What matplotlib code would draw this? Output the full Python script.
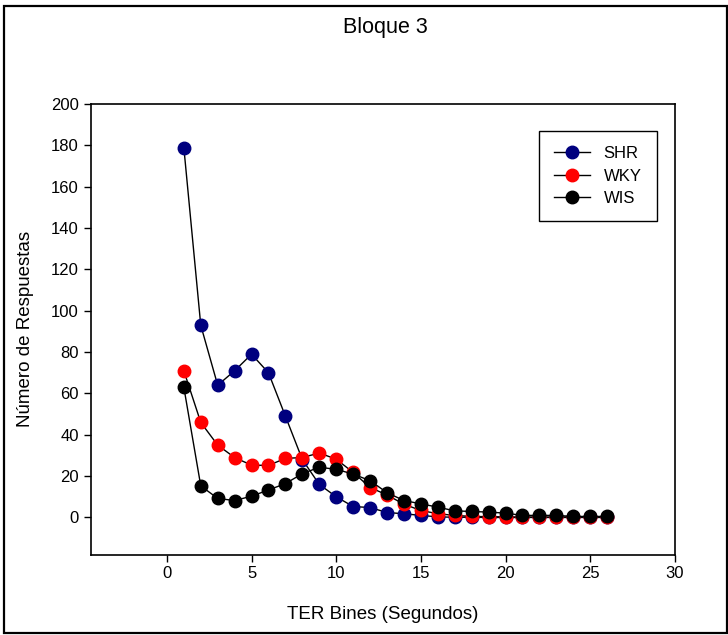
import matplotlib
matplotlib.use('Agg')
import matplotlib.pyplot as plt
import numpy as np

plt.rcParams['font.family'] = ['Liberation Sans', 'DejaVu Sans']

bins = np.arange(1, 27)

shr = [179, 93, 64, 71, 79, 70, 49, 28, 16, 10, 5.3, 4.8, 2.4, 1.8, 1.0, 0.3,
       0.1, 0.1, 0, 0, 0, 0, 0, 0, 0, 0]
wky = [71, 46, 35, 29, 25.3, 25.2, 28.6, 29, 31.2, 28.2, 21.8, 14.5, 10.9, 6.4, 3.4, 1.8,
       1.0, 0.5, 0.4, 0.3, 0.2, 0.2, 0.2, 0.2, 0.2, 0.2]
wis = [63, 15.3, 9.2, 8.2, 10.3, 13.3, 16.4, 21.2, 24.3, 23.3, 21, 17.8, 12, 8.2, 6.6, 5,
       3.2, 2.9, 2.6, 2.1, 1.0, 1.0, 1.0, 0.5, 0.5, 0.5]

series = [('SHR', shr, '#00007f'), ('WKY', wky, '#ff0000'), ('WIS', wis, '#000000')]

fig = plt.figure(figsize=(7.28, 6.35), dpi=100)
ax = fig.add_axes([0.1246, 0.1265, 0.8024, 0.7095])

for name, vals, col in series:
    ax.plot(bins, vals, '-o', color='black', lw=1.0, markersize=9,
            markerfacecolor=col, markeredgecolor=col, label=name)

ax.set_xlim(-4.5, 30)
ax.set_ylim(-18, 200)
ax.set_xticks(np.arange(0, 31, 5))
ax.set_yticks(np.arange(0, 201, 20))
ax.tick_params(direction='out', length=5, width=1, labelsize=12, top=False, right=False)
for s in ax.spines.values():
    s.set_linewidth(1.2)

ax.set_xlabel('TER Bines (Segundos)', fontsize=13.5, labelpad=18)
ax.set_ylabel('Número de Respuestas', fontsize=13.5, labelpad=12)

leg = ax.legend(loc='upper right', bbox_to_anchor=(0.969, 0.940), fontsize=12,
                fancybox=False, framealpha=1, edgecolor='black', borderaxespad=0,
                handlelength=2.2, borderpad=0.9, labelspacing=0.45)
leg.get_frame().set_linewidth(1.0)

fig.text(0.529, 0.957, 'Bloque 3', ha='center', va='center', fontsize=15.5)

# outer frame around the whole picture
fig.patches.append(plt.Rectangle((0.006, 0.003), 0.992, 0.988, transform=fig.transFigure,
                                 fill=False, edgecolor='black', linewidth=1.6))

fig.savefig('out.png', dpi=100)
